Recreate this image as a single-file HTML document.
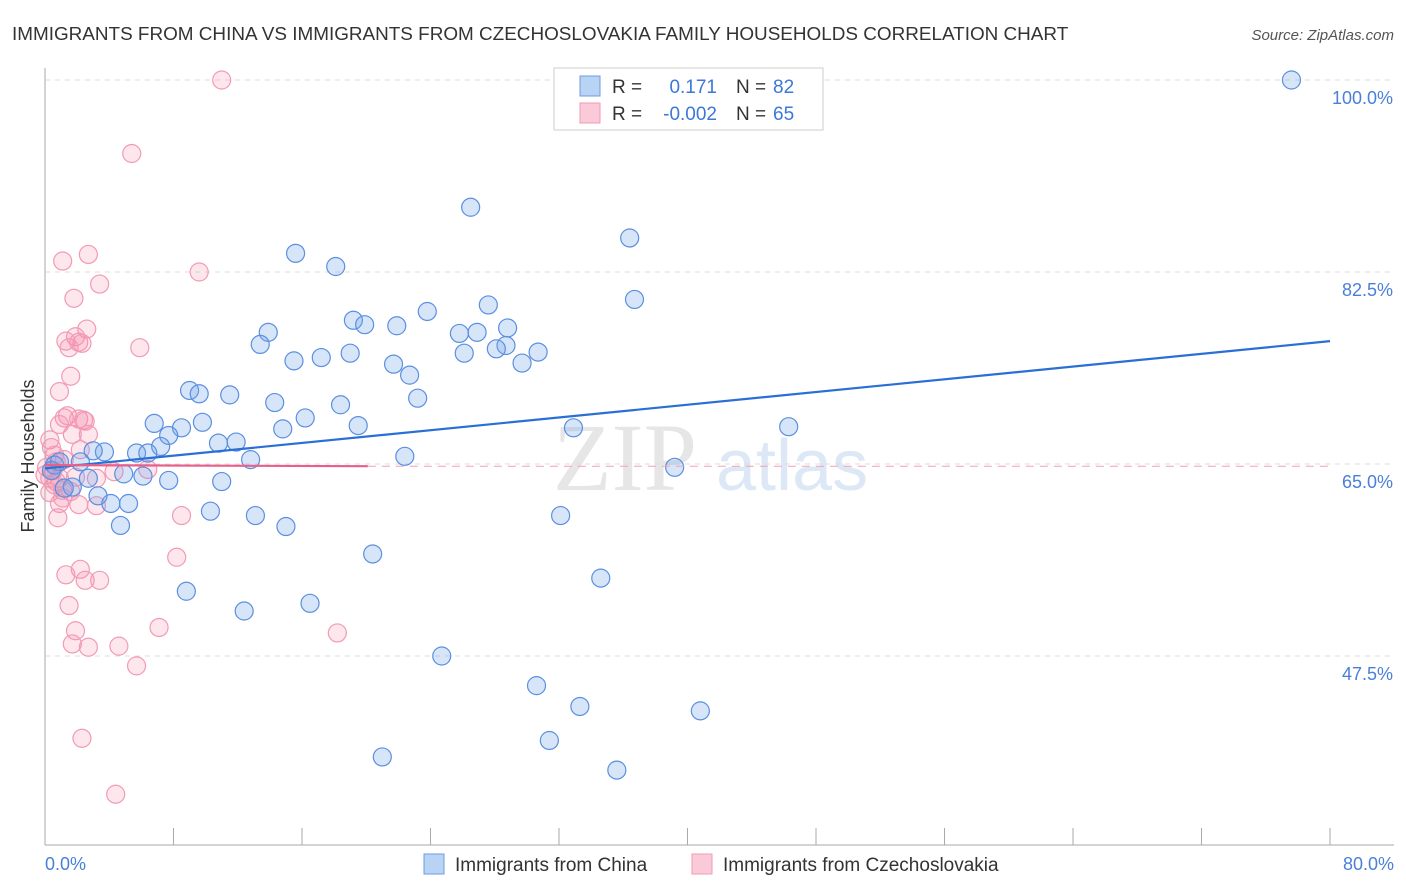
<!DOCTYPE html>
<html><head><meta charset="utf-8"><style>
body{margin:0;background:#fff;font-family:"Liberation Sans",sans-serif;}
svg{display:block}
</style></head><body>
<svg id="c" width="1406" height="892" xmlns="http://www.w3.org/2000/svg">
<text x="12" y="40" font-size="18.9" fill="#333">IMMIGRANTS FROM CHINA VS IMMIGRANTS FROM CZECHOSLOVAKIA FAMILY HOUSEHOLDS CORRELATION CHART</text>
<text x="1394" y="40" font-size="15" fill="#555" text-anchor="end" font-style="italic">Source: ZipAtlas.com</text>
<text x="553" y="490" font-size="96" fill="#e6e6e6" font-family="Liberation Serif,serif">ZIP</text>
<text x="716" y="490" font-size="72" fill="#dde8f6">atlas</text>
<g id="grid"></g>
<g id="axes"></g>
<g id="pts"></g>
<g id="trend"></g>
<text transform="translate(34,456) rotate(-90)" font-size="18" fill="#333" text-anchor="middle">Family Households</text>
<text x="45" y="870" font-size="18" fill="#4a7fd8">0.0%</text>
<text x="1394" y="870" font-size="18" fill="#4a7fd8" text-anchor="end">80.0%</text>
<g>
<rect x="554" y="68" width="269" height="62" fill="#fff" stroke="#ccc"/>
<rect x="580" y="76" width="20" height="20" fill="#b9d3f5" stroke="#6d9be0"/>
<rect x="580" y="103" width="20" height="20" fill="#fbcad8" stroke="#f09ab5"/>
<text x="612" y="93" font-size="19" fill="#333">R =</text>
<text x="717" y="93" font-size="19" fill="#3b78d8" text-anchor="end">0.171</text>
<text x="736" y="93" font-size="19" fill="#333">N =</text>
<text x="773" y="93" font-size="19" fill="#3b78d8">82</text>
<text x="612" y="120" font-size="19" fill="#333">R =</text>
<text x="717" y="120" font-size="19" fill="#3b78d8" text-anchor="end">-0.002</text>
<text x="736" y="120" font-size="19" fill="#333">N =</text>
<text x="773" y="120" font-size="19" fill="#3b78d8">65</text>
</g>
<g>
<rect x="424" y="854" width="20" height="20" fill="#b9d3f5" stroke="#6d9be0"/>
<text x="455" y="871" font-size="19" fill="#333">Immigrants from China</text>
<rect x="692" y="854" width="20" height="20" fill="#fbcad8" stroke="#f09ab5"/>
<text x="723" y="871" font-size="19" fill="#333">Immigrants from Czechoslovakia</text>
</g>
</svg>
<script>
const yTicks=[100,82.5,65,47.5];
const yTickLabels=["100.0%","82.5%","65.0%","47.5%"];
const xTicks=[0,8,16,24,32,40,48,56,64,72,80];
const chinaX=[77.6,26.5,36.4,15.6,18.1,36.7,27.6,23.8,19.2,19.9,21.9,13.9,25.8,26.9,28.8,13.4,28.7,28.1,19.0,17.2,15.5,26.1,30.7,29.7,21.7,22.7,9.0,9.6,11.5,23.2,14.3,18.4,16.2,6.8,9.8,8.5,19.5,14.8,7.7,32.9,46.3,10.8,11.9,7.2,3.7,5.7,6.4,3.0,22.4,12.8,2.2,0.6,0.9,39.2,4.9,6.1,2.7,7.7,11.0,1.7,1.2,3.3,4.1,5.2,10.3,13.1,32.1,4.7,15.0,20.4,34.6,8.8,16.5,12.4,24.7,30.6,33.3,40.8,31.4,21.0,35.6,0.4];
const chinaY=[100,88.4,85.6,84.2,83.0,80.0,79.5,78.9,78.1,77.7,77.6,77.0,76.9,77.0,77.4,75.9,75.8,75.5,75.1,74.7,74.4,75.1,75.2,74.2,74.1,73.1,71.7,71.4,71.3,71.0,70.6,70.4,69.2,68.7,68.8,68.3,68.5,68.2,67.6,68.3,68.4,66.9,67.0,66.6,66.1,66.0,66.0,66.2,65.7,65.4,65.2,64.9,65.2,64.7,64.1,63.9,63.7,63.5,63.4,62.9,62.8,62.1,61.4,61.4,60.7,60.3,60.3,59.4,59.3,56.8,54.6,53.4,52.3,51.6,47.5,44.8,42.9,42.5,39.8,38.3,37.1,64.4];
const czechX=[11.0,5.4,2.7,1.1,9.6,3.4,1.8,2.6,1.9,1.3,2.1,2.3,1.5,5.9,1.6,0.9,1.2,1.4,2.1,2.4,2.5,0.9,2.7,1.7,0.3,0.6,2.2,0.1,0.5,0.3,0.7,0.9,1.1,0.3,1.6,3.2,6.4,4.3,0.9,2.1,3.2,8.5,0.8,8.2,2.2,1.3,2.5,3.4,1.5,1.9,7.1,18.2,1.7,2.7,4.6,5.7,2.3,4.4,1.2,0.6,0.0,0.7,0.4,1.1,1.9];
const czechY=[100,93.3,84.1,83.5,82.5,81.4,80.1,77.3,76.6,76.2,76.1,76.0,75.6,75.6,73.0,71.6,69.2,69.4,69.1,69.0,68.9,68.6,67.7,67.7,67.2,65.8,66.3,64.7,64.4,63.7,63.4,63.7,62.6,62.4,62.5,63.7,64.5,64.3,61.4,61.3,61.2,60.3,60.1,56.5,55.4,54.9,54.4,54.4,52.1,49.8,50.1,49.6,48.6,48.3,48.4,46.6,40.0,34.9,65.4,63.1,64.0,65.2,66.5,61.9,63.8];
const chinaTrend=[[0,64.6],[80,76.2]];
const czechTrend=[[0,64.9],[20.1,64.8]];
const X=v=>45+v*(1330-45)/80;
const Y=v=>80+(100-v)*(656-80)/52.5;
const NS="http://www.w3.org/2000/svg";
function mk(t,a,p){const e=document.createElementNS(NS,t);for(const k in a)e.setAttribute(k,a[k]);p.appendChild(e);return e;}
const grid=document.getElementById('grid'),axes=document.getElementById('axes'),pts=document.getElementById('pts'),tr=document.getElementById('trend');
yTicks.forEach((t,i)=>{
 const l=mk('line',{x1:45,x2:1394,y1:Y(t),y2:Y(t),stroke:'#ddd','stroke-dasharray':'5,5'},grid);
 
 
 const tx=mk('text',{x:1393,y:Y(t)+24,'font-size':18,fill:'#4a7fd8','text-anchor':'end'},grid);
 tx.textContent=yTickLabels[i];
 
 
});
const ax=mk('line',{x1:45,x2:45,y1:68,y2:845,stroke:'#aaa'},axes);


const bx=mk('line',{x1:45,x2:1394,y1:845,y2:845,stroke:'#aaa'},axes);


xTicks.forEach(t=>{
 const l=mk('line',{x1:X(t),x2:X(t),y1:828,y2:845,stroke:'#aaa'},axes);
 
 
});
czechX.forEach((x,i)=>{
 const c=mk('circle',{cx:X(x),cy:Y(czechY[i]),r:9,fill:'rgba(245,140,170,0.22)',stroke:'#f29ab6','stroke-width':1.2},pts);
 
 
});
chinaX.forEach((x,i)=>{
 const c=mk('circle',{cx:X(x),cy:Y(chinaY[i]),r:9,fill:'rgba(110,160,235,0.28)',stroke:'#5b8fe0','stroke-width':1.2},pts);
 
 
});
const d=mk('line',{x1:X(czechTrend[1][0]),x2:X(80),y1:Y(czechTrend[1][1]),y2:Y(czechTrend[1][1]),stroke:'#f0a0b8','stroke-dasharray':'8,6','stroke-width':1},tr);


const bl=mk('line',{x1:X(chinaTrend[0][0]),y1:Y(chinaTrend[0][1]),x2:X(chinaTrend[1][0]),y2:Y(chinaTrend[1][1]),stroke:'#2a6fd6','stroke-width':2.2},tr);


const pl=mk('line',{x1:X(czechTrend[0][0]),y1:Y(czechTrend[0][1]),x2:X(czechTrend[1][0]),y2:Y(czechTrend[1][1]),stroke:'#e8608a','stroke-width':2.2},tr);


</script>
</body></html>
